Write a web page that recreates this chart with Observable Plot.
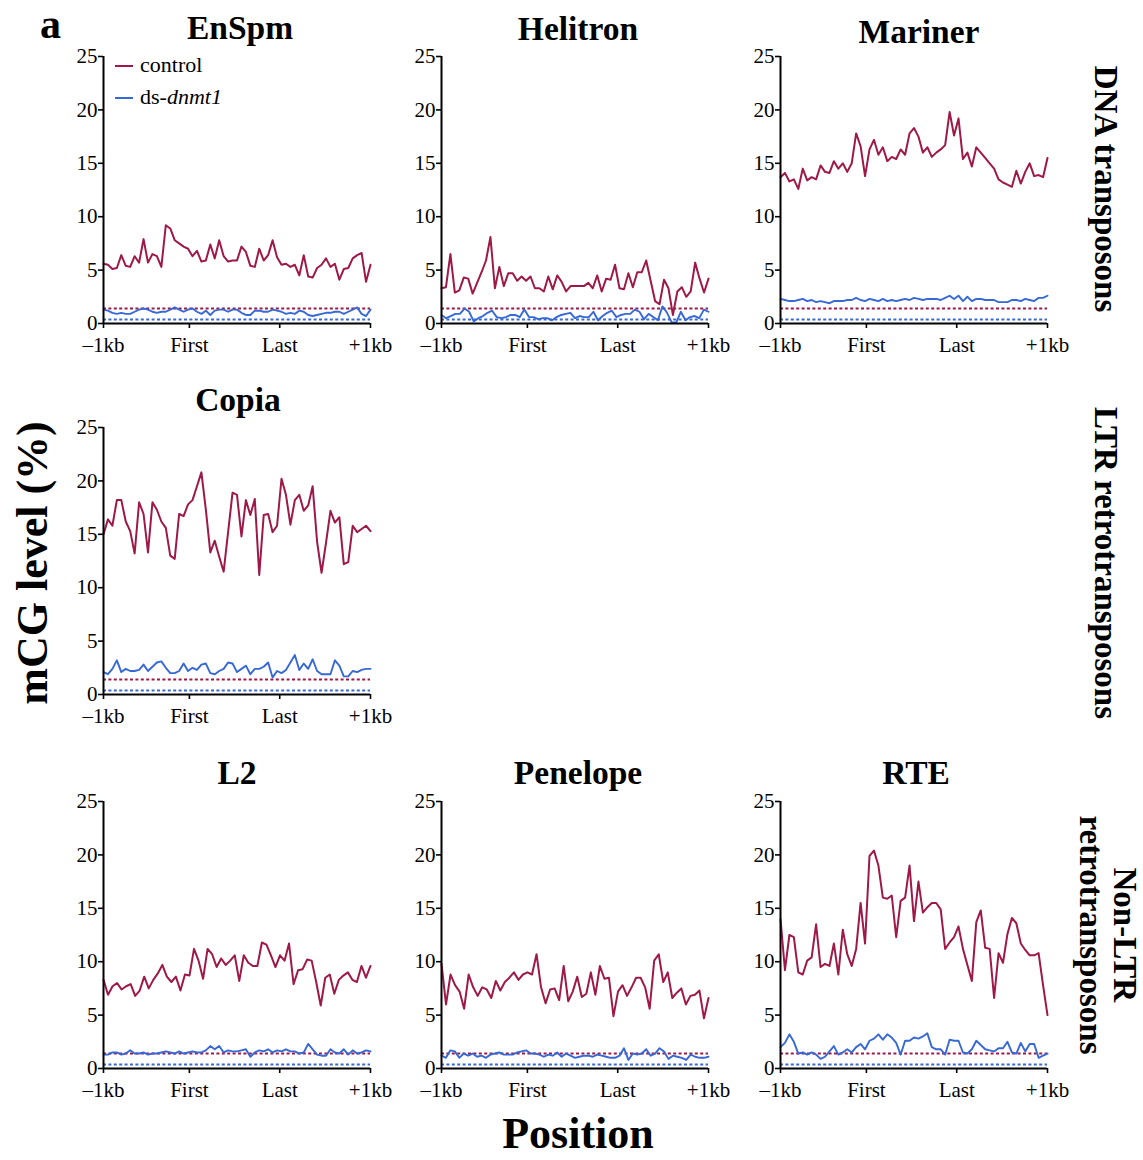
<!DOCTYPE html>
<html><head><meta charset="utf-8">
<script src="https://cdn.jsdelivr.net/npm/d3@7"></script>
<script src="https://cdn.jsdelivr.net/npm/@observablehq/plot@0.6"></script>
<style>
body{margin:0;background:#fff}
#chart{position:relative;width:1143px;height:1160px;font-family:"Liberation Serif","DejaVu Serif",serif;color:#000;overflow:hidden}
.abs{position:absolute;white-space:nowrap}
.title{font-weight:bold;font-size:33.5px;transform:translate(-50%,-50%)}
.big{font-weight:bold;font-size:44px;line-height:40px}
.side{font-weight:bold;font-size:33px;writing-mode:vertical-rl;text-align:center;line-height:34px;transform:translate(-50%,-50%)}
</style></head>
<body><div id="chart"></div>
<script>
// ---- data ----
const xTickLabels = ["\u20131kb", "First", "Last", "+1kb"];
const xTickPos = [0, 19.3, 39.6, 60];
const yTicks = [0, 5, 10, 15, 20, 25];
const seriesNames = ["control", "ds-dnmt1"];
const baselineControl = 1.4;
const baselineDs = 0.37;

const controlEnSpm = [5.6,5.5,5.1,5.2,6.4,5.4,5.3,6.3,5.7,7.9,5.7,6.5,6.3,5.3,9.2,8.9,7.8,7.5,7.2,7.0,6.3,6.8,5.8,5.9,7.4,6.1,7.8,6.3,5.8,5.9,5.9,7.2,6.7,5.4,5.3,7.0,5.9,6.4,7.8,6.2,5.5,5.6,5.3,5.5,4.5,6.4,4.4,4.3,5.2,5.5,6.1,5.3,5.6,4.1,5.1,5.2,6.1,6.4,6.6,3.9,5.5];
const dsEnSpm = [1.3,1.2,1.0,0.9,1.0,0.9,0.9,1.1,1.3,1.4,1.3,1.1,1.0,1.1,1.1,1.3,1.5,1.3,1.1,1.3,1.4,1.1,0.9,1.2,0.8,1.2,1.3,1.3,1.1,1.3,1.3,1.0,0.8,0.8,1.2,1.2,1.1,1.1,1.3,1.2,1.1,0.9,1.0,0.9,1.2,1.1,0.8,0.7,0.8,0.9,1.0,1.0,1.1,1.1,0.9,1.1,1.3,1.5,0.9,0.7,1.3];

const controlHelitron = [3.3,3.4,6.5,2.9,3.1,4.3,4.2,2.8,3.8,4.8,5.9,8.1,3.3,5.3,3.5,4.7,4.7,4.0,4.4,4.0,4.4,3.3,3.3,3.0,4.4,3.2,4.5,3.9,3.0,3.5,3.5,3.5,3.5,3.8,3.3,4.5,3.0,4.2,4.1,5.5,3.3,3.2,4.7,3.4,4.8,4.8,5.9,4.0,2.1,1.8,4.1,3.3,0.8,3.0,3.4,2.5,3.0,5.7,4.2,2.9,4.2];
const dsHelitron = [0.8,0.5,0.7,0.9,0.9,1.4,1.1,0.2,0.5,0.7,1.0,1.2,0.6,0.5,0.6,0.8,0.8,0.6,1.3,0.6,0.6,0.4,0.5,0.5,0.3,0.6,0.8,0.9,1.0,0.5,0.7,0.6,0.6,1.1,0.3,0.7,1.0,1.2,0.6,0.8,0.9,0.9,1.3,1.1,0.4,0.9,0.6,0.3,1.6,1.0,0.1,0.1,1.1,0.3,0.6,0.7,0.5,1.3,1.1];

const controlMariner = [13.7,14.1,13.3,13.5,12.6,14.5,13.4,13.7,13.5,14.8,14.2,14.1,15.2,14.5,15.0,14.2,15.0,17.8,16.6,13.8,16.3,17.2,15.8,16.5,15.2,15.6,15.4,16.3,15.8,17.8,18.3,17.5,16.0,16.5,15.6,16.0,16.3,16.7,19.8,17.6,19.2,15.4,16.0,14.7,16.5,16.0,15.5,15.0,14.5,13.5,13.2,13.0,12.8,14.3,13.1,14.2,15.0,13.8,13.9,13.7,15.5];
const dsMariner = [2.3,2.2,2.1,2.1,2.2,2.3,2.1,2.2,2.0,2.1,2.0,1.9,2.1,2.1,2.1,2.2,2.2,2.4,2.2,2.1,2.3,2.2,2.1,2.3,2.1,2.2,2.1,2.2,2.3,2.2,2.4,2.3,2.2,2.3,2.3,2.3,2.2,2.4,2.6,2.3,2.6,2.1,2.5,2.1,2.3,2.3,2.2,2.2,2.2,2.0,2.0,2.0,2.2,2.2,2.1,2.3,2.2,2.1,2.4,2.4,2.6];

const controlCopia = [15.0,16.4,15.8,18.2,18.2,16.2,15.3,13.2,18.0,16.9,13.3,18.0,17.3,16.2,15.6,13.0,12.7,16.9,16.7,17.8,18.2,19.5,20.8,17.3,13.3,14.4,12.9,11.5,15.2,18.9,18.7,14.8,18.2,16.8,18.3,11.2,16.8,16.9,15.2,15.8,20.2,18.7,15.9,18.2,18.7,17.2,17.7,19.5,14.3,11.4,14.2,17.2,16.1,16.6,12.2,12.4,15.8,15.2,15.5,15.8,15.3];
const dsCopia = [2.1,1.9,2.4,3.2,2.1,2.4,2.2,2.2,2.3,2.8,2.2,2.6,3.0,3.1,2.5,2.0,2.0,2.2,2.9,2.2,2.5,2.3,2.8,2.9,2.0,1.9,2.2,2.4,3.0,2.9,2.1,2.4,2.7,1.9,2.4,2.4,2.6,3.0,1.6,2.2,2.0,2.3,3.0,3.7,2.3,2.9,2.4,3.3,2.2,1.9,1.9,1.9,3.2,2.7,1.7,1.7,2.2,2.1,2.3,2.4,2.4];

const controlL2 = [8.3,6.9,7.7,8.0,7.4,7.7,7.9,6.8,7.3,8.6,7.5,8.3,8.9,9.7,8.6,8.1,8.6,7.3,8.8,8.7,11.2,10.1,8.4,11.2,10.7,9.5,10.3,9.7,10.1,10.6,8.2,10.6,9.9,9.6,9.6,11.8,11.6,10.6,9.5,10.6,10.1,11.7,7.9,9.2,9.3,10.2,10.1,8.1,5.9,8.5,8.8,7.0,8.3,8.7,9.0,8.3,8.1,9.6,8.5,9.6];
const dsL2 = [1.3,1.3,1.5,1.5,1.3,1.4,1.7,1.4,1.4,1.5,1.3,1.4,1.4,1.5,1.6,1.5,1.4,1.6,1.4,1.5,1.6,1.5,1.5,1.7,2.1,1.8,2.1,1.5,1.7,1.6,1.6,1.7,1.8,1.1,1.5,1.7,1.6,1.8,1.5,1.7,1.6,1.8,1.6,1.6,1.4,1.5,2.3,1.8,1.3,1.2,1.2,1.8,1.5,1.4,1.8,1.3,1.7,1.4,1.5,1.7,1.6];

const controlPenelope = [9.8,6.0,8.8,7.8,7.2,5.6,8.8,7.6,6.8,7.6,7.4,6.6,8.2,7.3,8.1,8.5,9.0,8.3,8.8,9.0,8.8,10.7,7.6,6.1,7.4,7.5,6.4,9.6,6.3,7.2,8.6,6.7,7.0,9.0,6.9,9.6,8.4,8.5,4.9,7.2,7.8,6.8,7.6,8.5,8.5,7.6,5.6,10.1,10.7,8.1,9.0,6.6,7.1,7.5,6.0,6.8,6.9,7.3,4.7,6.6];
const dsPenelope = [1.2,1.0,1.7,1.6,1.0,1.4,1.2,1.4,1.1,1.2,1.0,1.3,1.4,1.5,1.3,1.3,1.3,1.5,1.6,1.7,1.4,1.4,1.3,1.1,1.3,1.2,1.5,1.1,1.4,1.2,1.0,1.1,1.2,1.2,1.1,1.3,1.2,1.1,1.0,1.0,1.2,1.9,0.8,1.4,1.3,1.4,1.8,1.2,1.4,1.9,1.6,0.9,1.2,1.1,1.0,0.8,1.3,1.1,1.0,1.0,1.1];

const controlRTE = [14.0,9.2,12.5,12.3,9.0,8.8,10.1,10.4,13.5,9.5,9.8,9.6,11.7,8.8,13.0,10.7,9.6,11.2,15.5,11.7,19.9,20.4,19.0,16.0,15.9,16.2,12.3,15.7,16.0,19.0,13.8,17.5,14.6,15.1,15.5,15.5,14.9,11.2,11.8,12.3,13.3,11.2,9.7,8.2,13.7,14.8,11.3,11.2,6.6,10.8,9.9,12.6,14.1,13.6,11.7,11.1,10.6,10.6,10.8,7.8,5.0];
const dsRTE = [2.0,2.4,3.2,2.5,1.4,1.5,1.3,1.5,1.3,0.9,1.1,1.6,2.1,1.3,1.5,1.8,1.5,2.0,2.3,1.8,2.6,2.8,3.2,2.7,3.2,2.9,2.4,1.3,2.6,2.6,2.9,2.8,3.0,3.3,2.0,1.8,1.8,1.3,2.7,2.6,2.6,1.5,1.4,1.8,2.6,2.2,1.8,1.7,1.6,1.9,1.9,2.5,1.5,1.4,2.4,1.6,2.3,2.3,1.0,1.2,1.4];

const families = ["EnSpm","Helitron","Mariner","Copia","L2","Penelope","RTE"];
const groupLabels = ["DNA transposons", "LTR retrotransposons", "Non-LTR<br>retrotransposons"];

// ---- styles / layout ----
const RED = "#9e1848", BLUE = "#3668d6";
const IW = 267, IH = 267, ML = 50, MR = 30, MT = 12, MB = 40;
const FONT = '"Liberation Serif","DejaVu Serif",serif';
const layout = {
  EnSpm:    {c: controlEnSpm,    d: dsEnSpm,    left:103, top:56,  tx:240, ty:28},
  Helitron: {c: controlHelitron, d: dsHelitron, left:441, top:56,  tx:578, ty:29},
  Mariner:  {c: controlMariner,  d: dsMariner,  left:780, top:56,  tx:919, ty:32},
  Copia:    {c: controlCopia,    d: dsCopia,    left:103, top:427, tx:238, ty:400},
  L2:       {c: controlL2,       d: dsL2,       left:103, top:801, tx:237, ty:773},
  Penelope: {c: controlPenelope, d: dsPenelope, left:441, top:801, tx:578, ty:773},
  RTE:      {c: controlRTE,      d: dsRTE,      left:780, top:801, tx:916, ty:773}
};

const chart = document.getElementById("chart");
function addDiv(html, cls, x, y, extra) {
  const el = document.createElement("div");
  el.className = "abs " + (cls || "");
  el.innerHTML = html;
  el.style.left = x + "px"; el.style.top = y + "px";
  if (extra) Object.assign(el.style, extra);
  chart.appendChild(el);
  return el;
}
const toRows = arr => arr.map((v, i) => ({x: i * 60 / (arr.length - 1), v}));

for (const name of families) {
  const p = layout[name];
  const svg = Plot.plot({
    width: ML + IW + MR, height: MT + IH + MB,
    marginLeft: ML, marginRight: MR, marginTop: MT, marginBottom: MB,
    x: {domain: [0, 60]},
    y: {domain: [0, 25]},
    style: `font-family:${FONT};font-size:21px;color:#000;background:transparent;overflow:visible;`,
    marks: [
      Plot.ruleY([baselineControl], {stroke: RED, strokeWidth: 2, strokeDasharray: "3,2.4"}),
      Plot.ruleY([baselineDs], {stroke: BLUE, strokeWidth: 2, strokeDasharray: "3,2.4"}),
      Plot.line(toRows(p.d), {x: "x", y: "v", stroke: BLUE, strokeWidth: 1.9}),
      Plot.line(toRows(p.c), {x: "x", y: "v", stroke: RED, strokeWidth: 2}),
      Plot.axisY({ticks: yTicks, tickSize: 5, tickPadding: 1, fontSize: 21, strokeWidth: 1.6, label: null}),
      Plot.axisX({ticks: xTickPos, tickFormat: d => xTickLabels[xTickPos.indexOf(d)], tickSize: 5, tickPadding: 9, fontSize: 21, strokeWidth: 1.6, label: null}),
      Plot.ruleX([0], {stroke: "#000", strokeWidth: 2}),
      Plot.ruleY([0], {stroke: "#000", strokeWidth: 2})
    ]
  });
  svg.style.position = "absolute";
  svg.style.left = (p.left - ML) + "px";
  svg.style.top = (p.top - MT) + "px";
  chart.appendChild(svg);
  addDiv(name, "title", p.tx, p.ty);
}

// legend inside EnSpm panel
const legend = [[seriesNames[0], RED, 66], ["ds-<i>dnmt1</i>", BLUE, 98]];
for (const [label, col, y] of legend) {
  addDiv("", "", 115, y - 1, {width: "18px", height: "2px", background: col});
  addDiv(label, "", 140, y, {fontSize: "22px", transform: "translateY(-55%)"});
}

// panel letter, axis titles
addDiv("a", "", 40, 9, {fontWeight: "bold", fontSize: "42px", lineHeight: "30px"});
addDiv("mCG level (%)", "big", 33, 563, {transform: "translate(-50%,-50%) rotate(-90deg)"});
addDiv("Position", "big", 578, 1134, {transform: "translate(-50%,-50%)"});

// group labels on the right
addDiv(groupLabels[0], "side", 1106, 189);
addDiv(groupLabels[1], "side", 1106, 563);
addDiv(groupLabels[2], "side", 1108, 935);
</script>
</body></html>
